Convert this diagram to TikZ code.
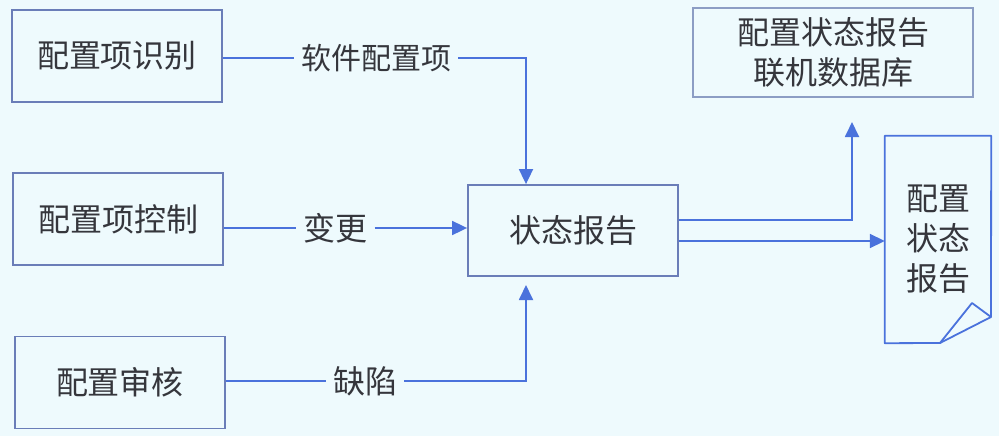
\documentclass[tikz,border=0pt]{standalone}
\usepackage{fontspec}
\setmainfont{Noto Sans CJK SC}
\usetikzlibrary{arrows.meta}
\definecolor{bg}{HTML}{EEFAFD}
\definecolor{edge}{HTML}{6A7DB8}
\definecolor{lightedge}{HTML}{8C9DC4}
\definecolor{conn}{HTML}{4A72DC}
\definecolor{txt}{HTML}{35363C}
\begin{document}
\begin{tikzpicture}[x=1pt,y=-1pt,
  box/.style={draw=edge, line width=1.8pt, text=txt, font=\fontsize{32}{40}\selectfont,
    minimum width=210pt, minimum height=92pt, inner sep=0pt, align=center},
  lbl/.style={text=txt, inner xsep=7pt, inner ysep=0pt, font=\fontsize{32}{38}\selectfont},
  wire/.style={draw=conn, line width=1.8pt},
  arr/.style={wire, -{Triangle[length=15pt,width=14pt]}}]
\useasboundingbox[fill=bg] (0,0) rectangle (999,436);
% boxes
\node[box] (b1) at (117,56) {配置项识别};
\node[box] (b2) at (118,219) {配置项控制};
\node[box] (b3) at (120,382.5) {配置审核};
\node[box, minimum height=91pt] (st) at (573,230.5) {状态报告};
\node[box, draw=lightedge, line width=1.3pt, minimum width=280pt, minimum height=89pt] (db) at (833,52.5) {配置状态报告\\联机数据库};
\node[text=txt, font=\fontsize{32}{40}\selectfont, align=center, minimum width=106pt, minimum height=207pt, inner sep=0pt] (doc) at (938,239.5) {配置\\状态\\报告};
% document outline with folded corner
\draw[wire, line join=round] (doc.north west) -- (doc.north east) -- (991,317) -- (940,343) -- (doc.south west) -- cycle;
\draw[wire, line join=round] (940,343) -- (972,303) -- (991,317);
% labels
\node[lbl, font=\fontsize{30}{36}\selectfont] (l1) at (376,58) {软件配置项};
\node[lbl] (l2) at (335.5,228) {变更};
\node[lbl] (l3) at (365,381) {缺陷};
% connectors
\coordinate (c1) at (526,58);
\coordinate (c3) at (526,285);
\coordinate (c4) at (852,122);
\draw[wire] (b1.east |- l1) -- (l1.west);
\draw[arr] (l1.east) -- (c1) -- (st.north -| c1);
\draw[wire] (b2.east |- l2) -- (l2.west);
\draw[arr] (l2.east) -- (st.west |- l2);
\draw[wire] (b3.east |- l3) -- (l3.west);
\draw[arr] (l3.east) -| (c3);
\draw[arr] ([yshift=10.5pt]st.east) -| (c4);
\draw[arr] ([yshift=-10.5pt]st.east) -- ([yshift=-10.5pt]st.east -| doc.west);
\end{tikzpicture}
\end{document}
